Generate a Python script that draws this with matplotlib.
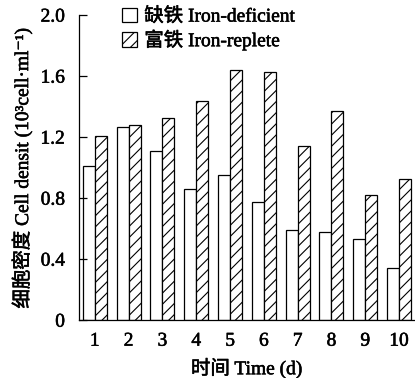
import matplotlib
matplotlib.use("Agg")
import matplotlib.pyplot as plt
import matplotlib.patheffects as pe
import numpy as np

# data
days = [1, 2, 3, 4, 5, 6, 7, 8, 9, 10]
iron_deficient = [1.01, 1.265, 1.11, 0.86, 0.955, 0.775, 0.59, 0.58, 0.53, 0.34]
iron_replete = [1.21, 1.28, 1.325, 1.44, 1.64, 1.63, 1.14, 1.37, 0.82, 0.925]
yticks = [0, 0.4, 0.8, 1.2, 1.6, 2.0]
yticklabels = ["0", "0.4", "0.8", "1.2", "1.6", "2.0"]

FONT = ["Liberation Serif", "Noto Sans CJK SC", "DejaVu Serif"]
plt.rcParams["font.family"] = FONT
plt.rcParams["hatch.linewidth"] = 0.8

# slightly heavier text, like the scanned original
heavy = [pe.withStroke(linewidth=0.4, foreground="black")]

fig = plt.figure(figsize=(4.15, 3.78), dpi=100)
ax = fig.add_axes([0.19, 0.153, 0.81, 0.807])

x = np.array(days, dtype=float)
w = 0.355
ax.bar(x - w / 2, iron_deficient, width=w, color="white", edgecolor="black",
       linewidth=0.9, label="缺铁 Iron-deficient")
ax.bar(x + w / 2, iron_replete, width=w, color="white", edgecolor="black",
       linewidth=0.9, hatch="///", label="富铁 Iron-replete")

ax.set_xlim(0.527, 10.47)
ax.set_ylim(0, 2.0)
ax.set_yticks(yticks)
ax.set_yticklabels(yticklabels)
ax.set_xticks(days)
ax.tick_params(axis="y", direction="in", length=6, width=0.9, labelsize=14, pad=10)
ax.tick_params(axis="x", length=0, labelsize=14, pad=9)
for s in ["top", "right"]:
    ax.spines[s].set_visible(False)
for s in ["left", "bottom"]:
    ax.spines[s].set_linewidth(0.9)

ax.set_xlabel("时间 Time (d)", fontsize=14, labelpad=6)
ax.set_ylabel("细胞密度 Cell densit (10³cell·ml⁻¹)", fontsize=14, labelpad=6)

leg = ax.legend(loc="upper left", bbox_to_anchor=(0.105, 1.05), frameon=False,
                fontsize=14, handlelength=0.75, handleheight=0.75,
                handletextpad=0.4, labelspacing=0.2, borderaxespad=0)

texts = ax.get_xticklabels() + ax.get_yticklabels() + leg.get_texts()
texts += [ax.xaxis.label, ax.yaxis.label]
for t in texts:
    t.set_path_effects(heavy)

fig.savefig("out.png", dpi=100)
